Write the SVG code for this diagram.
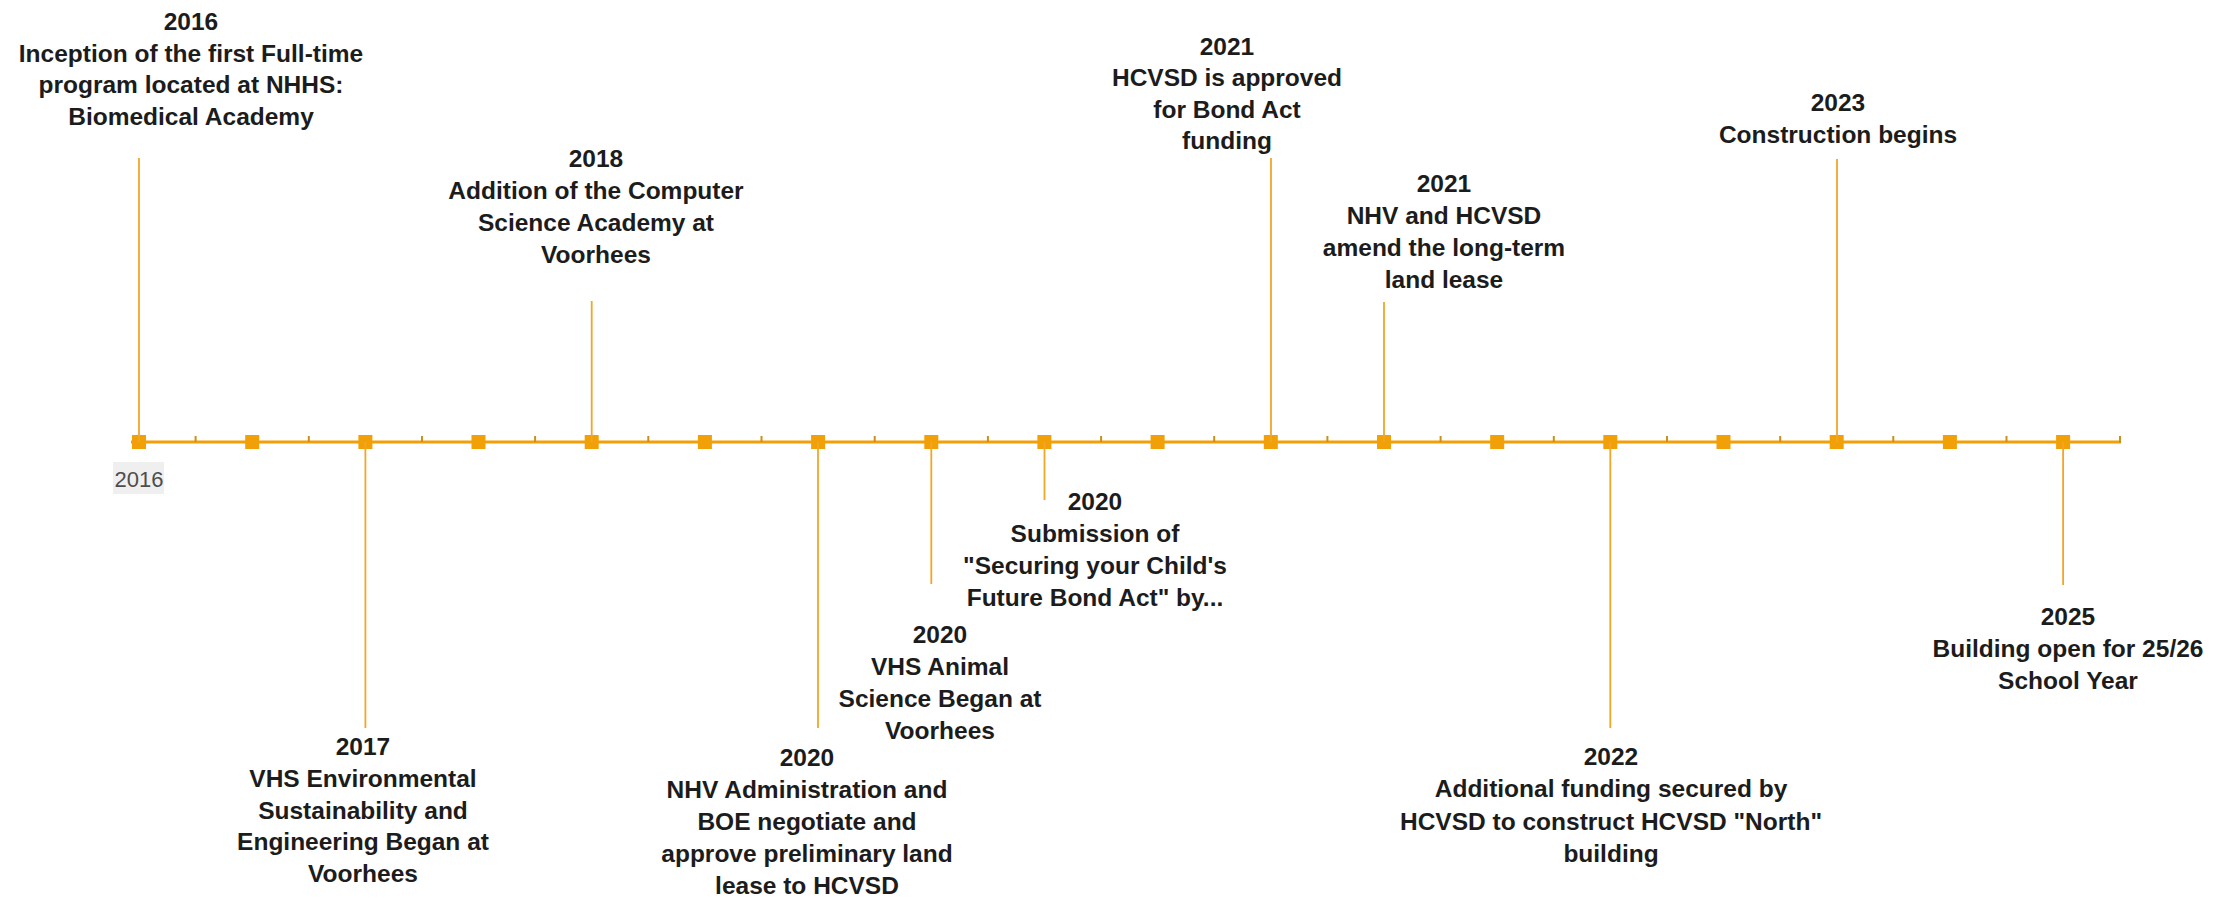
<svg xmlns="http://www.w3.org/2000/svg" width="2234" height="897" viewBox="0 0 2234 897">
  <style>
    .lbl { font-family: "Liberation Sans", Arial, sans-serif; font-weight: bold; font-size: 24.5px; fill: #1c1c1c; text-anchor: middle; }
    .axislbl { font-family: "Liberation Sans", Arial, sans-serif; font-size: 22px; fill: #4d4d4d; text-anchor: middle; }
    .stem { stroke: #F2A626; stroke-width: 1.8; fill: none; }
    .axis { stroke: #F2A007; stroke-width: 3.2; fill: none; }
    .tick { stroke: #C8901E; stroke-width: 2; }
    .sq { fill: #F2A007; }
  </style>
  <rect width="2234" height="897" fill="#ffffff"/>

  <g id="axis">
    <line class="axis" x1="131" y1="442" x2="2121" y2="442"/>
    <g id="minor-ticks">
      <line class="tick" x1="195.6" y1="436" x2="195.6" y2="442"/>
      <line class="tick" x1="308.8" y1="436" x2="308.8" y2="442"/>
      <line class="tick" x1="422" y1="436" x2="422" y2="442"/>
      <line class="tick" x1="535.1" y1="436" x2="535.1" y2="442"/>
      <line class="tick" x1="648.3" y1="436" x2="648.3" y2="442"/>
      <line class="tick" x1="761.5" y1="436" x2="761.5" y2="442"/>
      <line class="tick" x1="874.7" y1="436" x2="874.7" y2="442"/>
      <line class="tick" x1="987.9" y1="436" x2="987.9" y2="442"/>
      <line class="tick" x1="1101.1" y1="436" x2="1101.1" y2="442"/>
      <line class="tick" x1="1214.2" y1="436" x2="1214.2" y2="442"/>
      <line class="tick" x1="1327.4" y1="436" x2="1327.4" y2="442"/>
      <line class="tick" x1="1440.6" y1="436" x2="1440.6" y2="442"/>
      <line class="tick" x1="1553.8" y1="436" x2="1553.8" y2="442"/>
      <line class="tick" x1="1667" y1="436" x2="1667" y2="442"/>
      <line class="tick" x1="1780.2" y1="436" x2="1780.2" y2="442"/>
      <line class="tick" x1="1893.3" y1="436" x2="1893.3" y2="442"/>
      <line class="tick" x1="2006.5" y1="436" x2="2006.5" y2="442"/>
      <line class="tick" x1="2120" y1="436" x2="2120" y2="443"/>
    </g>
    <g id="markers">
      <rect class="sq" x="132" y="435" width="14" height="14"/>
      <rect class="sq" x="245.2" y="435" width="14" height="14"/>
      <rect class="sq" x="358.4" y="435" width="14" height="14"/>
      <rect class="sq" x="471.5" y="435" width="14" height="14"/>
      <rect class="sq" x="584.7" y="435" width="14" height="14"/>
      <rect class="sq" x="697.9" y="435" width="14" height="14"/>
      <rect class="sq" x="811.1" y="435" width="14" height="14"/>
      <rect class="sq" x="924.3" y="435" width="14" height="14"/>
      <rect class="sq" x="1037.4" y="435" width="14" height="14"/>
      <rect class="sq" x="1150.6" y="435" width="14" height="14"/>
      <rect class="sq" x="1263.8" y="435" width="14" height="14"/>
      <rect class="sq" x="1377" y="435" width="14" height="14"/>
      <rect class="sq" x="1490.2" y="435" width="14" height="14"/>
      <rect class="sq" x="1603.3" y="435" width="14" height="14"/>
      <rect class="sq" x="1716.5" y="435" width="14" height="14"/>
      <rect class="sq" x="1829.7" y="435" width="14" height="14"/>
      <rect class="sq" x="1942.9" y="435" width="14" height="14"/>
      <rect class="sq" x="2056.1" y="435" width="14" height="14"/>
    </g>
    <g id="axis-label">
      <rect x="113" y="462" width="51" height="32" fill="#efefef"/>
      <text class="axislbl" x="139" y="487">2016</text>
    </g>
  </g>

  <g id="connectors">
    <line class="stem" x1="139" y1="158" x2="139" y2="442"/>
    <line class="stem" x1="591.7" y1="301" x2="591.7" y2="442"/>
    <line class="stem" x1="1271" y1="158" x2="1271" y2="442"/>
    <line class="stem" x1="1384" y1="302" x2="1384" y2="442"/>
    <line class="stem" x1="1837" y1="159" x2="1837" y2="442"/>
    <line class="stem" x1="365.4" y1="442" x2="365.4" y2="728"/>
    <line class="stem" x1="818" y1="442" x2="818" y2="728"/>
    <line class="stem" x1="931.3" y1="442" x2="931.3" y2="584"/>
    <line class="stem" x1="1044.5" y1="442" x2="1044.5" y2="500"/>
    <line class="stem" x1="1610.3" y1="442" x2="1610.3" y2="728"/>
    <line class="stem" x1="2063.1" y1="442" x2="2063.1" y2="585"/>
  </g>

  <g id="event-2016">
    <text class="lbl" x="191" y="30"><tspan x="191">2016</tspan><tspan x="191" dy="31.6">Inception of the first Full-time</tspan><tspan x="191" dy="31.6">program located at NHHS:</tspan><tspan x="191" dy="31.6">Biomedical Academy</tspan></text>
  </g>
  <g id="event-2017">
    <text class="lbl" x="363" y="755"><tspan x="363">2017</tspan><tspan x="363" dy="31.8">VHS Environmental</tspan><tspan x="363" dy="31.8">Sustainability and</tspan><tspan x="363" dy="31.8">Engineering Began at</tspan><tspan x="363" dy="31.8">Voorhees</tspan></text>
  </g>
  <g id="event-2018">
    <text class="lbl" x="596" y="167"><tspan x="596">2018</tspan><tspan x="596" dy="32">Addition of the Computer</tspan><tspan x="596" dy="32">Science Academy at</tspan><tspan x="596" dy="32">Voorhees</tspan></text>
  </g>
  <g id="event-2020-lease">
    <text class="lbl" x="807" y="766"><tspan x="807">2020</tspan><tspan x="807" dy="32">NHV Administration and</tspan><tspan x="807" dy="32">BOE negotiate and</tspan><tspan x="807" dy="32">approve preliminary land</tspan><tspan x="807" dy="32">lease to HCVSD</tspan></text>
  </g>
  <g id="event-2020-animal">
    <text class="lbl" x="940" y="643"><tspan x="940">2020</tspan><tspan x="940" dy="32">VHS Animal</tspan><tspan x="940" dy="32">Science Began at</tspan><tspan x="940" dy="32">Voorhees</tspan></text>
  </g>
  <g id="event-2020-bond">
    <text class="lbl" x="1095" y="510"><tspan x="1095">2020</tspan><tspan x="1095" dy="32">Submission of</tspan><tspan x="1095" dy="32">"Securing your Child's</tspan><tspan x="1095" dy="32">Future Bond Act" by...</tspan></text>
  </g>
  <g id="event-2021-funding">
    <text class="lbl" x="1227" y="55"><tspan x="1227">2021</tspan><tspan x="1227" dy="31.4">HCVSD is approved</tspan><tspan x="1227" dy="31.4">for Bond Act</tspan><tspan x="1227" dy="31.4">funding</tspan></text>
  </g>
  <g id="event-2021-lease">
    <text class="lbl" x="1444" y="192"><tspan x="1444">2021</tspan><tspan x="1444" dy="32">NHV and HCVSD</tspan><tspan x="1444" dy="32">amend the long-term</tspan><tspan x="1444" dy="32">land lease</tspan></text>
  </g>
  <g id="event-2022">
    <text class="lbl" x="1611" y="765"><tspan x="1611">2022</tspan><tspan x="1611" dy="32.3">Additional funding secured by</tspan><tspan x="1611" dy="32.3">HCVSD to construct HCVSD "North"</tspan><tspan x="1611" dy="32.3">building</tspan></text>
  </g>
  <g id="event-2023">
    <text class="lbl" x="1838" y="111"><tspan x="1838">2023</tspan><tspan x="1838" dy="32">Construction begins</tspan></text>
  </g>
  <g id="event-2025">
    <text class="lbl" x="2068" y="625"><tspan x="2068">2025</tspan><tspan x="2068" dy="32">Building open for 25/26</tspan><tspan x="2068" dy="32">School Year</tspan></text>
  </g>
</svg>
